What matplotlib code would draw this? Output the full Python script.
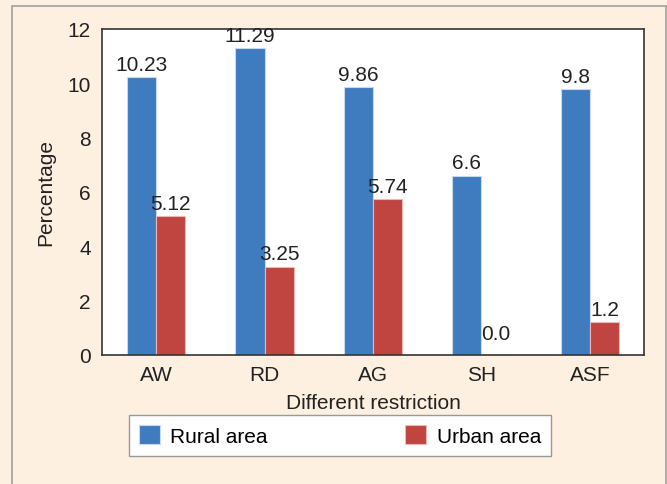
import numpy as np
import matplotlib.pyplot as plt
from matplotlib.patches import Rectangle

plt.rcParams['font.family'] = ['Liberation Sans', 'DejaVu Sans']

categories = ['AW', 'RD', 'AG', 'SH', 'ASF']
rural = [10.23, 11.29, 9.86, 6.6, 9.8]
urban = [5.12, 3.25, 5.74, 0.0, 1.2]
rural_labels = ['10.23', '11.29', '9.86', '6.6', '9.8']
urban_labels = ['5.12', '3.25', '5.74', '0.0', '1.2']

bg = '#fdf0e1'
blue = '#3f7bbf'
red = '#c0443f'
txt = '#222222'
fs = 15

fig = plt.figure(figsize=(6.67, 4.85), dpi=100, facecolor=bg)
# thin grey frame round the panel
fig.patches.append(Rectangle((12 / 667, -0.05), 654 / 667, 1.05 - 7 / 485,
                             transform=fig.transFigure, fill=False,
                             edgecolor='#a0a0a0', linewidth=1.2))

ax = fig.add_axes([102 / 667, 1 - 356 / 485, 542 / 667, 326 / 485])
x = np.arange(len(categories))
w = 0.27
b1 = ax.bar(x - w / 2, rural, w, color=blue, edgecolor='#c8d8ee', linewidth=0.8,
            label='Rural area')
b2 = ax.bar(x + w / 2, urban, w, color=red, edgecolor='#eab8b5', linewidth=0.8,
            label='Urban area')

for xi, v, s in zip(x, rural, rural_labels):
    ax.text(xi - w / 2, v + 0.12, s, ha='center', va='bottom', fontsize=fs,
            color=txt)
for xi, v, s in zip(x, urban, urban_labels):
    # zero bar has no height, so lift its label a little off the axis
    y = v + 0.12 if v > 0 else 0.45
    ax.text(xi + w / 2, y, s, ha='center', va='bottom', fontsize=fs,
            color=txt)

ax.set_xlim(-0.5, 4.5)
ax.set_ylim(0, 12)
ax.set_yticks([0, 2, 4, 6, 8, 10, 12])
ax.set_xticks(x)
ax.set_xticklabels(categories)
ax.tick_params(length=0, labelsize=fs, colors=txt)
ax.tick_params(axis='x', pad=7)
ax.tick_params(axis='y', pad=8)
for sp in ax.spines.values():
    sp.set_color('#333333')
    sp.set_linewidth(1.2)

ax.set_xlabel('Different restriction', fontsize=fs, color=txt, labelpad=7)
ax.set_ylabel('Percentage', fontsize=fs, color=txt, labelpad=9)

leg = fig.legend(handles=[b1, b2], loc='center',
                 bbox_to_anchor=(340 / 667, 1 - 436.5 / 485), ncol=2,
                 fontsize=fs, frameon=True, fancybox=False, edgecolor='#999999',
                 facecolor='white', framealpha=1,
                 handlelength=1.0, handleheight=1.0, columnspacing=6.6,
                 borderpad=0.5, handletextpad=0.5)
leg.get_frame().set_linewidth(1.0)

fig.savefig('out.png', dpi=100, facecolor=bg)
